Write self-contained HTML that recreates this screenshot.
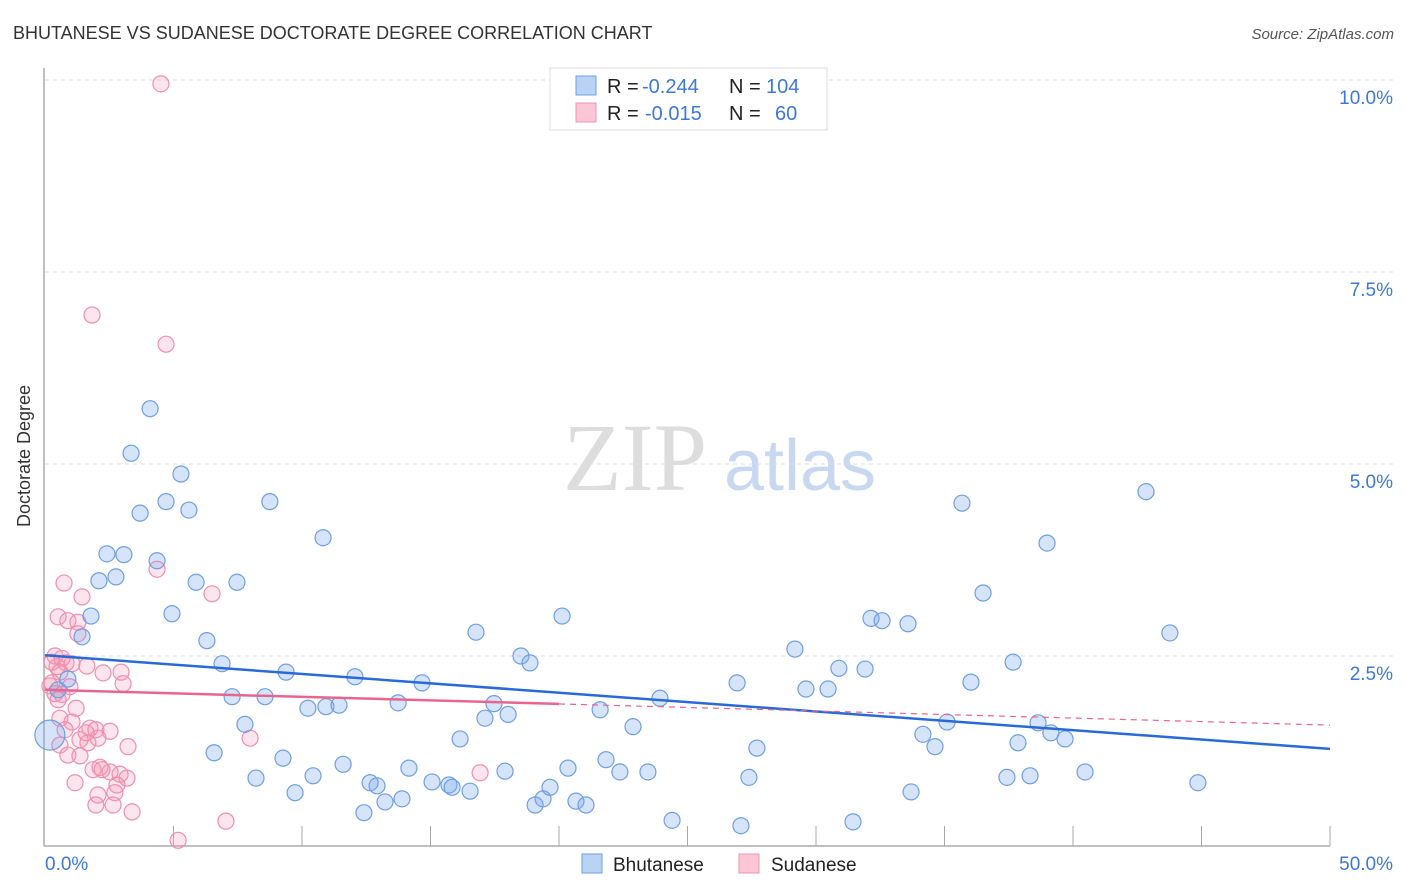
<!DOCTYPE html>
<html><head><meta charset="utf-8">
<style>
body{margin:0;background:#fff;font-family:"Liberation Sans",sans-serif;}
#wrap{position:relative;width:1406px;height:892px;overflow:hidden;}
</style></head>
<body>
<div id="wrap">
<svg id="chart" width="1406" height="892" xmlns="http://www.w3.org/2000/svg">
<text x="13" y="39" font-size="18" fill="#333">BHUTANESE VS SUDANESE DOCTORATE DEGREE CORRELATION CHART</text>
<text x="1394" y="39" font-size="15" fill="#555" font-style="italic" text-anchor="end">Source: ZipAtlas.com</text>
<text x="30" y="456" font-size="18" fill="#333" text-anchor="middle" transform="rotate(-90 30 456)">Doctorate Degree</text>
<g>
<text x="635" y="490" font-size="96" fill="#ddd" font-family="Liberation Serif,serif" text-anchor="middle">ZIP</text>
<text x="800" y="490" font-size="72" fill="#c8d8f0" text-anchor="middle">atlas</text>
</g>
<g id="grid"></g>
<g id="axes"></g>
<g id="pts"></g>
<g id="trends"></g>
<g>
<rect x="550" y="68" width="277" height="62" fill="#fff" stroke="#ddd"/>
<rect x="576" y="76" width="20" height="19" fill="#b9d3f5" stroke="#6f9fe0"/>
<text x="607" y="93" font-size="20" fill="#222">R = </text>
<text x="642" y="93" font-size="20" fill="#3c78d8">-0.244</text>
<text x="729" y="93" font-size="20" fill="#222">N = </text>
<text x="766" y="93" font-size="20" fill="#3c78d8">104</text>
<rect x="576" y="103" width="20" height="19" fill="#fbc6d6" stroke="#f093b0"/>
<text x="607" y="120" font-size="20" fill="#222">R = </text>
<text x="645" y="120" font-size="20" fill="#3c78d8">-0.015</text>
<text x="729" y="120" font-size="20" fill="#222">N = </text>
<text x="775" y="120" font-size="20" fill="#3c78d8">60</text>
</g>
<g>
<rect x="582" y="854" width="20" height="19" fill="#b9d3f5" stroke="#6f9fe0"/>
<text x="613" y="871" font-size="19" fill="#222">Bhutanese</text>
<rect x="739" y="854" width="20" height="19" fill="#fbc6d6" stroke="#f093b0"/>
<text x="771" y="871" font-size="19" fill="#222">Sudanese</text>
</g>
</svg>
</div>
<script>
const blueX=[4.09,3.35,5.29,4.71,3.70,5.60,8.75,10.82,2.41,3.07,4.36,2.76,2.10,5.88,7.47,1.79,4.94,1.44,6.30,6.89,9.38,12.06,0.89,0.51,14.67,7.28,8.56,10.23,10.93,11.44,13.74,17.47,18.02,17.12,7.78,16.15,6.58,9.26,11.60,8.21,10.43,9.73,12.65,12.92,14.16,15.06,15.72,15.84,16.54,13.23,13.89,12.41,17.90,19.07,19.38,19.65,20.35,20.66,21.05,21.83,22.37,23.46,24.40,27.08,22.88,21.60,23.93,20.12,16.77,18.52,18.87,26.93,27.70,27.39,29.18,29.61,30.47,30.89,31.91,32.14,32.57,33.58,31.44,33.70,34.16,34.63,35.10,35.68,36.50,36.03,37.67,37.86,37.43,38.33,38.64,38.99,39.14,39.69,40.47,42.84,43.77,44.86,0.19];
const blueY=[5.72,5.14,4.87,4.51,4.36,4.40,4.51,4.04,3.83,3.82,3.74,3.53,3.48,3.46,3.46,3.02,3.05,2.75,2.70,2.40,2.29,2.23,2.20,2.06,2.15,1.97,1.97,1.82,1.84,1.86,1.89,1.88,1.74,1.69,1.61,1.42,1.24,1.17,1.09,0.91,0.94,0.72,0.85,0.81,1.04,0.86,0.82,0.79,0.74,0.60,0.64,0.46,1.00,0.56,0.64,0.79,1.04,0.61,0.56,1.15,0.99,0.99,0.36,0.29,1.58,1.80,1.95,3.02,2.81,2.50,2.41,2.15,1.30,0.92,2.59,2.07,2.07,2.34,2.33,2.99,2.96,2.92,0.34,0.73,1.48,1.32,1.64,4.49,3.32,2.16,2.42,1.37,0.92,0.94,1.63,3.97,1.50,1.42,0.99,4.64,2.80,0.85,1.47];
const pinkX=[4.51,1.83,4.71,4.36,6.50,0.74,1.44,0.51,0.89,1.28,1.28,0.27,0.47,0.82,1.05,1.63,0.58,2.26,2.96,3.04,0.19,0.39,0.66,1.21,0.58,1.05,1.75,1.98,2.53,0.78,1.36,1.67,0.58,2.06,3.23,0.89,1.36,7.98,1.87,2.14,2.53,2.92,3.19,2.80,1.17,2.06,2.72,1.98,2.65,3.39,7.04,5.18,16.93,0.27,0.97,0.39,0.66,0.51,1.60,2.22];
const pinkY=[9.95,6.94,6.56,3.63,3.31,3.45,3.27,3.01,2.96,2.94,2.79,2.42,2.36,2.41,2.40,2.37,2.29,2.28,2.29,2.14,2.11,2.01,2.00,1.82,1.69,1.64,1.56,1.54,1.52,1.54,1.41,1.37,1.34,1.43,1.32,1.21,1.20,1.43,1.02,1.05,0.99,0.96,0.91,0.82,0.85,0.69,0.72,0.56,0.56,0.47,0.35,0.10,0.98,2.15,2.10,2.50,2.47,1.93,1.50,1.02];
const blueTrend=[2.51,1.29];
const pinkTrend=[2.06,1.60];
const pinkSolidEnd=20;
const yTicks=[2.5,5.0,7.5,10.0];
const xTickVals=[0,5,10,15,20,25,30,35,40,45,50];

const NS="http://www.w3.org/2000/svg";
const X0=45,X1=1330,Y0=848,PXY=76.8;
const sx=v=>X0+(v/50)*(X1-X0);
const sy=v=>Y0-v*PXY;
function mk(tag,attrs,parent){const e=document.createElementNS(NS,tag);for(const k in attrs)e.setAttribute(k,attrs[k]);parent.appendChild(e);return e;}
const gridG=document.getElementById('grid'),axesG=document.getElementById('axes'),ptsG=document.getElementById('pts'),trG=document.getElementById('trends'),svgEl=document.getElementById('chart');
yTicks.forEach(t=>{
  const l=mk('line',{x1:X0,x2:1395,y1:sy(t),y2:sy(t),stroke:'#ddd','stroke-dasharray':'4,4'},gridG);
  
  
  const tx=mk('text',{x:1393,y:sy(t)+24,'font-size':19,fill:'#3c78d8','text-anchor':'end'},svgEl);
  tx.textContent=t.toFixed(1)+'%';
  
  
});
const yAxisLine=mk('line',{x1:44,x2:44,y1:68,y2:846,stroke:'#aaa','stroke-width':1.5},axesG);


const xAxisLine=mk('line',{x1:44,x2:1330,y1:846,y2:846,stroke:'#aaa','stroke-width':1.5},axesG);


xTickVals.forEach(t=>{
  if(t===0)return;
  const l=mk('line',{x1:sx(t),x2:sx(t),y1:826,y2:846,stroke:'#aaa'},axesG);
  
  
});
const xl0=mk('text',{x:45,y:870,'font-size':19,fill:'#3c78d8'},svgEl);xl0.textContent='0.0%';


const xl1=mk('text',{x:1393,y:870,'font-size':19,fill:'#3c78d8','text-anchor':'end'},svgEl);xl1.textContent='50.0%';


pinkX.forEach((x,i)=>{
  const c=mk('circle',{cx:sx(x),cy:sy(pinkY[i]),r:8,fill:'rgba(245,150,180,0.25)',stroke:'#ee8fae','stroke-width':1.2},ptsG);
  
  
});
blueX.forEach((x,i)=>{
  const r=(i===blueX.length-1)?15:8;
  const c=mk('circle',{cx:sx(x),cy:sy(blueY[i]),r:r,fill:'rgba(120,165,235,0.3)',stroke:'#6f9fe0','stroke-width':1.2},ptsG);
  
  
});
const bt=mk('line',{x1:sx(0),y1:sy(blueTrend[0]),x2:sx(50),y2:sy(blueTrend[1]),stroke:'#2a6ad6','stroke-width':2.5},trG);


const pAt=x=>pinkTrend[0]+(pinkTrend[1]-pinkTrend[0])*x/50;
const ps=mk('line',{x1:sx(0),y1:sy(pAt(0)),x2:sx(pinkSolidEnd),y2:sy(pAt(pinkSolidEnd)),stroke:'#e8658f','stroke-width':2.5},trG);


const pd=mk('line',{x1:sx(pinkSolidEnd),y1:sy(pAt(pinkSolidEnd)),x2:sx(50),y2:sy(pAt(50)),stroke:'#e8658f','stroke-width':1.2,'stroke-dasharray':'6,5'},trG);


</script>
</body></html>
